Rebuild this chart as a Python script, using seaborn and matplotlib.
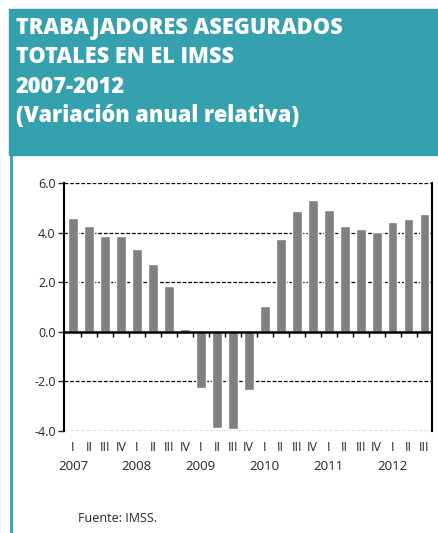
"""
Trabajadores asegurados totales en el IMSS, variación anual relativa 2007-2012.
"""
import numpy as np
import pandas as pd
import matplotlib.pyplot as plt
import matplotlib.patches as mpatches
import matplotlib.lines as mlines
import matplotlib.transforms as mtransforms
import seaborn as sns

# ── Data ─────────────────────────────────────────────────────────────────────
years = ["2007", "2008", "2009", "2010", "2011", "2012"]
quarters = ["I", "II", "III", "IV"]
periods = [f"{y}-{q}" for y in years for q in quarters][:23]
quarter_labels = [p.split("-")[1] for p in periods]
variation = [4.60, 4.27, 3.88, 3.88, 3.32, 2.73, 1.83, 0.10,
             -2.28, -3.86, -3.90, -2.35, 1.06, 3.76, 4.87, 5.31,
             4.92, 4.27, 4.14, 4.04, 4.41, 4.54, 4.73]
y_ticks = [6.0, 4.0, 2.0, 0.0, -2.0, -4.0]

TEAL = "#35A1AE"
W, H = 438, 533

df = pd.DataFrame({"periodo": periods, "variacion": variation})

sns.set_style("white")
plt.rcParams["font.family"] = ["Open Sans", "DejaVu Sans"]

fig = plt.figure(figsize=(W / 100, H / 100), dpi=100)

# ── Header box and left rule ─────────────────────────────────────────────────
fig.patches.append(mpatches.Rectangle((9 / W, 1 - 155 / H), 1 - 9 / W, 146 / H,
                                      transform=fig.transFigure, color=TEAL, zorder=0))
fig.lines.append(mlines.Line2D([10.5 / W, 10.5 / W], [0, 1 - 155 / H],
                               transform=fig.transFigure, color=TEAL, lw=2))

title_lines = ["TRABAJADORES ASEGURADOS", "TOTALES EN EL IMSS", "2007-2012",
               "(Variación anual relativa)"]
for i, line in enumerate(title_lines):
    fig.text(16 / W, 1 - (28 + i * 29.3) / H, line, color="white", fontsize=15.7,
             fontweight="heavy", va="center", ha="left")

# ── Bars ─────────────────────────────────────────────────────────────────────
ax = fig.add_axes([64 / W, 1 - 431 / H, (432 - 64) / W, (431 - 183) / H])
sns.barplot(data=df, x="periodo", y="variacion", color="#808080", width=0.62,
            saturation=1, ax=ax, zorder=3)

ax.set_xlim(-0.56, len(periods) - 0.53)
ax.set_ylim(-4, 6)
ax.set_xlabel("")
ax.set_ylabel("")

# grid lines (dashed) including the top and bottom borders
for yv in [6, 4, 2, -2, -4]:
    ax.axhline(yv, color="black", lw=0.9, linestyle=(0, (3, 1.5)), zorder=1)
ax.axhline(0, color="black", lw=1.8, zorder=4)

for side in ["top", "bottom"]:
    ax.spines[side].set_visible(False)
for side in ["left", "right"]:
    ax.spines[side].set_color("black")
    ax.spines[side].set_linewidth(1.5)

ax.set_yticks(y_ticks)
ax.set_yticklabels([f"{v:.1f}" for v in y_ticks], fontsize=9)
ax.tick_params(axis="y", left=True, length=4, width=1, pad=2)

ax.set_xticks(range(len(periods)))
ax.set_xticklabels(quarter_labels, fontsize=9)
ax.tick_params(axis="x", bottom=False, length=0, pad=7)

# small tick marks below the zero line, between bars
ax.vlines(np.arange(len(periods)) + 0.5, -0.22, 0, color="black", lw=1, zorder=4)

# year labels under each first quarter
trans = mtransforms.blended_transform_factory(ax.transData, ax.transAxes)
for i, y in enumerate(years):
    ax.text(i * 4, -0.145, y, transform=trans, ha="center", va="center", fontsize=9.5)

fig.text(78 / W, 1 - 519 / H, "Fuente: IMSS.", fontsize=9, ha="left", va="center")

fig.savefig("out.png", dpi=100)
